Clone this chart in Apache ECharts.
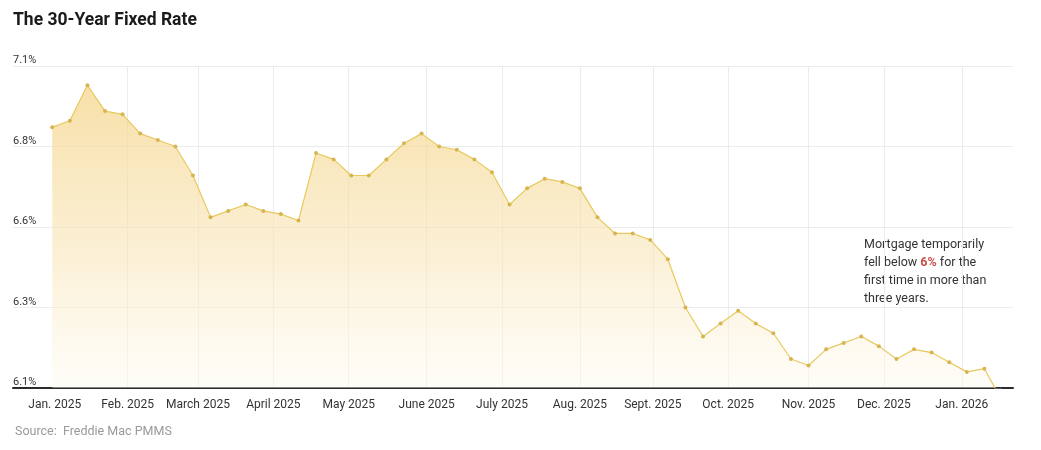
<!DOCTYPE html>
<html>
<head>
<meta charset="utf-8">
<script src="https://cdn.jsdelivr.net/npm/echarts@6/dist/echarts.min.js"></script>
<style>
  html, body { margin: 0; padding: 0; background: #ffffff; }
  #chart { width: 1041px; height: 450px; }
</style>
</head>
<body>
<div id="chart"></div>
<script>
// ---- data (weekly 30-year fixed rate, %) ----
const weekDates = [
  '2025-01-02','2025-01-09','2025-01-16','2025-01-23','2025-01-30',
  '2025-02-06','2025-02-13','2025-02-20','2025-02-27',
  '2025-03-06','2025-03-13','2025-03-20','2025-03-27',
  '2025-04-03','2025-04-10','2025-04-17','2025-04-24',
  '2025-05-01','2025-05-08','2025-05-15','2025-05-22','2025-05-29',
  '2025-06-05','2025-06-12','2025-06-19','2025-06-26',
  '2025-07-03','2025-07-10','2025-07-17','2025-07-24','2025-07-31',
  '2025-08-07','2025-08-14','2025-08-21','2025-08-28',
  '2025-09-04','2025-09-11','2025-09-18','2025-09-25',
  '2025-10-02','2025-10-09','2025-10-16','2025-10-23','2025-10-30',
  '2025-11-06','2025-11-13','2025-11-20','2025-11-27',
  '2025-12-04','2025-12-11','2025-12-18','2025-12-25',
  '2026-01-01','2026-01-08','2026-01-15'
];
const rates = [
  6.91, 6.93, 7.04, 6.96, 6.95,
  6.89, 6.87, 6.85, 6.76,
  6.63, 6.65, 6.67, 6.65,
  6.64, 6.62, 6.83, 6.81,
  6.76, 6.76, 6.81, 6.86, 6.89,
  6.85, 6.84, 6.81, 6.77,
  6.67, 6.72, 6.75, 6.74, 6.72,
  6.63, 6.58, 6.58, 6.56,
  6.50, 6.35, 6.26, 6.30,
  6.34, 6.30, 6.27, 6.19, 6.17,
  6.22, 6.24, 6.26, 6.23,
  6.19, 6.22, 6.21, 6.18,
  6.15, 6.16, 6.06
];
// x-axis month gridlines and labels (dates)
const monthTickDates = [
  '2025-02-01','2025-03-01','2025-03-31','2025-04-30','2025-05-31','2025-06-30',
  '2025-07-31','2025-08-29','2025-09-28','2025-10-30','2025-11-29','2025-12-30'
];
const monthLabelDates = ['2025-01-03'].concat(monthTickDates);
const monthLabels = [
  'Jan. 2025','Feb. 2025','March 2025','April 2025','May 2025','June 2025','July 2025',
  'Aug. 2025','Sept. 2025','Oct. 2025','Nov. 2025','Dec. 2025','Jan. 2026'
];
const xRangeStart = '2024-12-17';
const xRangeEnd = '2026-01-19';
// y-axis ticks
const yTickValues = [6.1, 6.35, 6.6, 6.85, 7.1];
const yTickLabels = ['6.1%', '6.3%', '6.6%', '6.8%', '7.1%'];

const titleText = 'The 30-Year Fixed Rate';
const sourceText = 'Source:  Freddie Mac PMMS';

// ---- helpers ----
function toTime(s, hours) {
  const p = s.split('-').map(Number);
  return Date.UTC(p[0], p[1] - 1, p[2], hours || 0);
}
const seriesData = weekDates.map((d, i) => [toTime(d), rates[i]]);
const tickTimes = monthTickDates.map(d => toTime(d));
const labelTimes = monthLabelDates.map(d => toTime(d));

function nearestIndex(arr, v) {
  let best = 0, bd = Infinity;
  arr.forEach((t, i) => { const d = Math.abs(t - v); if (d < bd) { bd = d; best = i; } });
  return best;
}

const FONT = 'Roboto, "Noto Sans", sans-serif';

const chart = echarts.init(document.getElementById('chart'), null, { renderer: 'canvas' });
chart.setOption({
  animation: false,
  backgroundColor: '#ffffff',
  title: [
    {
      text: titleText,
      left: 8, top: 7,
      padding: [5, 5, 5, 5],
      textStyle: { fontFamily: FONT, fontSize: 17.5, fontWeight: 'bold', color: '#1a1a1a' }
    },
    {
      text: sourceText,
      left: 10, top: 420,
      textStyle: { fontFamily: FONT, fontSize: 12.5, fontWeight: 'normal', color: '#9a9a9a' }
    }
  ],
  grid: { left: 13, right: 28, top: 66, bottom: 62, containLabel: false },
  xAxis: {
    type: 'value',
    min: toTime(xRangeStart, 9),
    max: toTime(xRangeEnd, 9),
    axisLine: { show: true, onZero: false, lineStyle: { color: '#2b2b2b', width: 2 } },
    axisTick: { show: false, customValues: tickTimes },
    splitLine: { show: true, lineStyle: { color: '#ececec', width: 1 } },
    axisLabel: {
      customValues: labelTimes,
      margin: 11,
      fontFamily: FONT, fontSize: 12, color: '#333333',
      formatter: function (v) { return monthLabels[nearestIndex(labelTimes, v)]; }
    }
  },
  yAxis: {
    type: 'value',
    min: 6.1, max: 7.1,
    axisLine: { show: false },
    axisTick: { show: false, customValues: yTickValues },
    splitLine: { show: true, lineStyle: { color: '#ececec', width: 1 } },
    axisLabel: {
      customValues: yTickValues,
      inside: true,
      margin: 0,
      verticalAlign: 'bottom',
      padding: [0, 0, 0, 0],
      fontFamily: FONT, fontSize: 11, color: '#333333',
      formatter: function (v) { return yTickLabels[nearestIndex(yTickValues, v)]; }
    }
  },
  series: [{
    type: 'line',
    data: seriesData,
    symbol: 'circle',
    symbolSize: 4,
    showAllSymbol: true,
    clip: true,
    itemStyle: { color: '#d8b450' },
    lineStyle: { color: '#e8c95e', width: 1.2 },
    areaStyle: {
      color: {
        type: 'linear', x: 0, y: 0, x2: 0, y2: 1,
        colorStops: [
          { offset: 0, color: 'rgba(244, 210, 130, 1)' },
          { offset: 0.55, color: 'rgba(249, 231, 187, 0.85)' },
          { offset: 1, color: 'rgba(255, 252, 245, 0.6)' }
        ]
      }
    },
    emphasis: { disabled: true }
  }],
  graphic: [{
    type: 'text',
    left: 864, top: 236,
    style: {
      text: 'Mortgage temporarily\nfell below {r|6%} for the\nfirst time in more than\nthree years.',
      fontFamily: FONT, fontSize: 12.5, lineHeight: 18, fill: '#333333',
      rich: {
        r: { fontFamily: FONT, fontSize: 12.5, lineHeight: 18, fontWeight: 'bold', fill: '#c9504a' }
      }
    }
  }]
});
</script>
</body>
</html>
